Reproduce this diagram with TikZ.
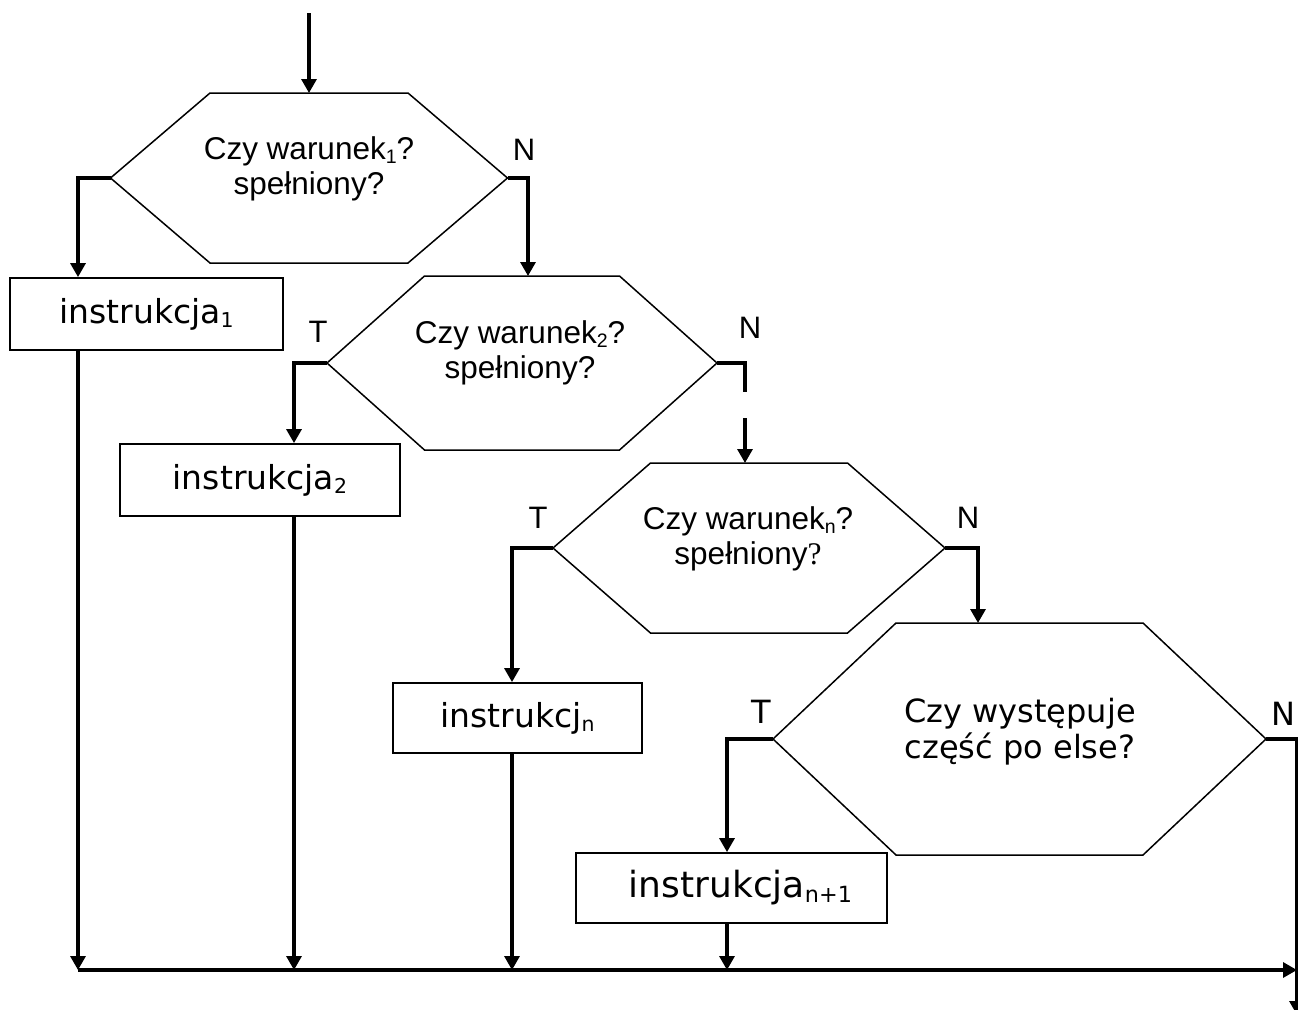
\documentclass[tikz,border=0pt]{standalone}
\usepackage{fontspec}
\setmainfont{Liberation Sans}
\newfontfamily\dvfont{DejaVu Sans}
\newfontfamily\serffont{Liberation Serif}
\usetikzlibrary{arrows.meta,calc}

% lowered, reduced index after a word
\newcommand\lowidx[1]{\raisebox{-0.22ex}{\scalebox{0.62}{#1}}}

% hexagonal decision frame: name, centre, half width, half height, chamfer
\newcommand\hexframe[5]{%
  \coordinate (#1-c) at #2;
  \coordinate (#1-w) at ($(#1-c)+(-#3,0)$);
  \coordinate (#1-e) at ($(#1-c)+(#3,0)$);
  \coordinate (#1-n) at ($(#1-c)+(0,-#4)$);
  \draw[hexline] (#1-w) -- ($(#1-c)+(-#3+#5,-#4)$) -- ($(#1-c)+(#3-#5,-#4)$)
    -- (#1-e) -- ($(#1-c)+(#3-#5,#4)$) -- ($(#1-c)+(-#3+#5,#4)$) -- cycle;
}

\begin{document}
\begin{tikzpicture}[x=1pt,y=-1pt,
  flow/.style={line width=3.2pt},
  flowarrow/.style={flow,-{Triangle[length=14pt,width=15pt]}},
  hexline/.style={line width=1.5pt,line join=miter},
  box/.style={draw,line width=1.8pt,inner sep=0pt,
    font=\dvfont\fontsize{33}{40}\selectfont},
  hextext/.style={align=center,font=\fontsize{31.5}{35}\selectfont},
  arialtag/.style={font=\fontsize{31}{36}\selectfont},
  dvtag/.style={font=\dvfont\fontsize{32}{38}\selectfont},
]
\useasboundingbox (0,0) rectangle (1298,1009);

% decision frames
\hexframe{h1}{(309,178)}{198.5}{85}{99.5}
\hexframe{h2}{(522,363)}{195}{87}{97.5}
\hexframe{h3}{(749,548)}{196}{85}{97.5}
\hexframe{h4}{(1019.5,739)}{246.5}{116}{123}

% questions
\node[hextext] (q1) at (309,169) {Czy warunek\lowidx{1}?\\spełniony?};
\node[hextext] (q2) at (520,353) {Czy warunek\lowidx{2}?\\spełniony?};
\node[hextext] (q3) at (748,539) {Czy warunek\lowidx{n}?\\spełniony{\serffont ?}};
\node[hextext,font=\dvfont\fontsize{32}{36}\selectfont] (q4) at (1020,732)
  {Czy występuje\\część po else?};

% instruction boxes
\node[box,minimum width=273pt,minimum height=72pt] (b1) at (146.5,314) {instrukcja\lowidx{1}};
\node[box,minimum width=280pt,minimum height=72pt] (b2) at (260,480) {instrukcja\lowidx{2}};
\node[box,minimum width=249pt,minimum height=70pt] (b3) at (517.5,718) {instrukcj\lowidx{n}};
\node[box,minimum width=311pt,minimum height=70pt,font=\dvfont\fontsize{36}{42}\selectfont]
  (b4) at (731.5,888) {\kern18pt instrukcja\lowidx{n+1}};

% branch labels
\node[arialtag] (n1) at (524,150) {N};
\node[arialtag] (t2) at (318,332) {T};
\node[arialtag] (n2) at (750,328) {N};
\node[arialtag] (t3) at (538,518) {T};
\node[arialtag] (n3) at (968,518) {N};
\node[dvtag] (t4) at (761,712) {T};
\node[dvtag] (n4) at (1283,714) {N};

% routing columns and rows
\coordinate (start) at (309,13);
\coordinate (x1) at (78,0);
\coordinate (x1n) at (528,0);
\coordinate (x2) at (294,0);
\coordinate (x3) at (512,0);
\coordinate (x3n) at (978,0);
\coordinate (x4) at (727,0);
\coordinate (x4n) at (1297,0);
\coordinate (gapend) at (745,392);
\coordinate (gapstart) at (745,418);
\coordinate (bus) at (0,970);
\coordinate (exit) at (1297,1015);

% connectors
\draw[flowarrow] (start) -- (h1-n);
\draw[flowarrow] (h1-w) -| (x1 |- b1.north);
\draw[flowarrow] (h1-e) -| (x1n |- h2-n);
\draw[flowarrow] (h2-w) -| (x2 |- b2.north);
\draw[flow] (h2-e) -| (gapend);
\draw[flowarrow] (gapstart) -- (gapstart |- h3-n);
\draw[flowarrow] (h3-w) -| (x3 |- b3.north);
\draw[flowarrow] (h3-e) -| (x3n |- h4-n);
\draw[flowarrow] (h4-w) -| (x4 |- b4.north);
\draw[flowarrow] (h4-e) -| (exit);

\draw[flowarrow] (x1 |- b1.south) -- (x1 |- bus);
\draw[flowarrow] (x2 |- b2.south) -- (x2 |- bus);
\draw[flowarrow] (x3 |- b3.south) -- (x3 |- bus);
\draw[flowarrow] (x4 |- b4.south) -- (x4 |- bus);
\draw[flowarrow] (x1 |- bus) -- (x4n |- bus);
\end{tikzpicture}
\end{document}
